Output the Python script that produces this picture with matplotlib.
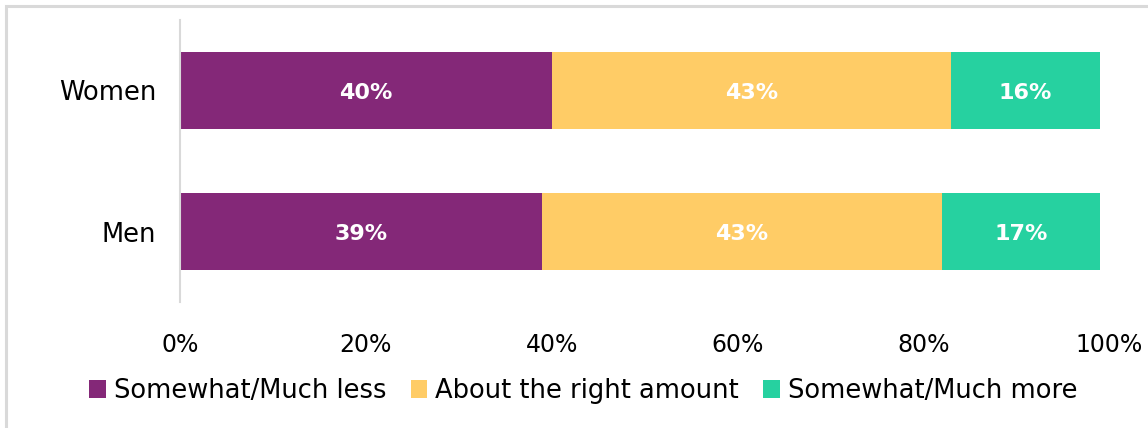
import numpy as np
import matplotlib.pyplot as plt
from matplotlib.patches import Rectangle

groups = ["Women", "Men"]
series = ["Somewhat/Much less", "About the right amount", "Somewhat/Much more"]
less = [40, 39]
right_amount = [43, 43]
more = [16, 17]
colors = ["#842878", "#FFCC66", "#26D1A0"]
xticks = [0, 20, 40, 60, 80, 100]

plt.rcParams['font.family'] = ['DejaVu Sans']

fig = plt.figure(figsize=(11.48, 4.28), dpi=100)
ax = fig.add_axes([180/1148, 1-302/428, 929/1148, 282/428])

# light grey frame round the whole chart
fig.patches.append(Rectangle((6/1148, -0.05), 1.1, 1 - 6/428 + 0.05, transform=fig.transFigure,
                             fill=False, edgecolor="#d9d9d9", linewidth=2.2))

y = np.arange(len(groups))
left = np.zeros(len(groups))
for vals, name, c in zip([less, right_amount, more], series, colors):
    bars = ax.barh(y, vals, left=left, height=0.55, color=c, label=name)
    for b, v in zip(bars, vals):
        ax.text(b.get_x() + b.get_width() / 2, b.get_y() + b.get_height() / 2 + 0.02, f"{v}%",
                ha="center", va="center", color="white", fontsize=16, fontweight="bold")
    left += np.array(vals)

ax.set_xlim(0, 100)
ax.set_ylim(1.5, -0.5)
ax.set_yticks(y)
ax.set_yticklabels(groups, fontsize=18.5)
ax.set_xticks(xticks)
ax.set_xticklabels([f"{t}%" for t in xticks], fontsize=17)
ax.tick_params(length=0)
ax.tick_params(axis="y", pad=17)
ax.tick_params(axis="x", pad=22)
for s in ["top", "right", "bottom"]:
    ax.spines[s].set_visible(False)
ax.spines["left"].set_color("#d9d9d9")
ax.spines["left"].set_linewidth(1.5)

fig.legend(loc="center", bbox_to_anchor=(0.508, 1-391/428), ncol=3, frameon=False,
           fontsize=18.5, handlelength=0.65, handleheight=0.65, handletextpad=0.3,
           columnspacing=0.95)

fig.savefig("out.png", dpi=100)
